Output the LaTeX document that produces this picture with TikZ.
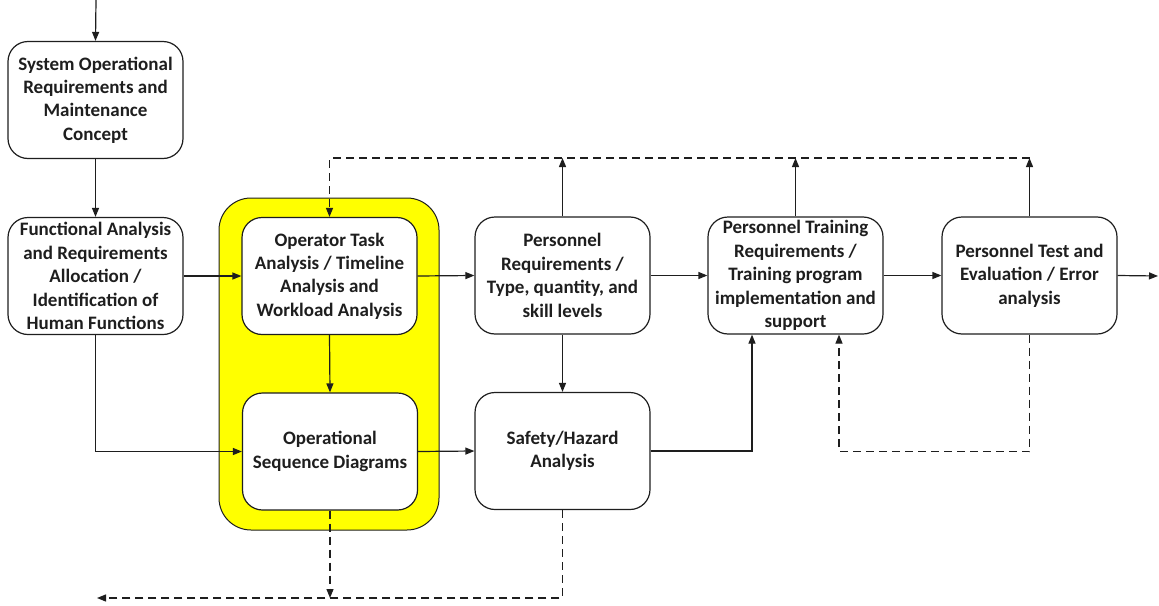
\documentclass[tikz,border=0pt]{standalone}
\usepackage{fontspec}
\setmainfont{Carlito}
\usetikzlibrary{arrows.meta}
\definecolor{hilite}{HTML}{FFFF00}
\definecolor{ink}{HTML}{1E1E1E}
\begin{document}
\begin{tikzpicture}[x=1pt,y=-1pt,
  stage/.style={draw=ink,line width=1.2pt,fill=white,rounded corners=20pt,
    minimum width=175pt,minimum height=117pt,inner sep=2pt,align=center,
    text=ink,font=\fontsize{19}{23.4}\selectfont\bfseries},
  focusbox/.style={draw=ink,line width=1pt,fill=hilite,rounded corners=32pt,
    minimum width=220pt,minimum height=332pt},
  flow/.style={draw=ink,line width=1.2pt,-{Triangle[length=9pt,width=7pt]}},
  feedback/.style={flow,dash pattern=on 8pt off 5pt}]
\useasboundingbox (0,0) rectangle (1159,605);

% highlighted task-analysis group
\node[focusbox] (focus) at (329,364) {};

% process stages
\node[stage] (sysreq) at (95.5,100) {System Operational\\Requirements and\\Maintenance\\Concept};
\node[stage] (func) at (95.5,276) {Functional Analysis\\and Requirements\\Allocation /\\Identification of\\Human Functions};
\node[stage] (task) at (329.5,276) {Operator Task\\Analysis / Timeline\\Analysis and\\Workload Analysis};
\node[stage] (osd) at (330,451.5) {Operational\\Sequence Diagrams};
\node[stage] (preq) at (562.5,275.5) {Personnel\\Requirements /\\Type, quantity, and\\skill levels};
\node[stage] (safety) at (562.5,451) {Safety/Hazard\\Analysis};
\node[stage] (train) at (795.5,275.5) {Personnel Training\\Requirements /\\Training program\\implementation and\\support};
\node[stage] (test) at (1029.5,275.5) {Personnel Test and\\Evaluation / Error\\analysis};

% free ends of connectors
\coordinate (entry) at (96,0);
\coordinate (exit) at (1158,276);
\coordinate (topline) at (1029.5,158);
\coordinate (botline) at (97,598);

% main flow
\draw[flow] (entry) -- (sysreq.north);
\draw[flow] (sysreq.south) -- (func.north);
\draw[flow] (func.east) -- (task.west);
\draw[flow] (func.south) |- (osd.west);
\draw[flow] (task.south) -- (osd.north);
\draw[flow] (task.east) -- (preq.west);
\draw[flow] (preq.south) -- (safety.north);
\draw[flow] (osd.east) -- (safety.west);
\draw[flow] (preq.east) -- (train.west);
\draw[flow] (train.east) -- (test.west);
\draw[flow] (test.east) -- (exit);
\draw[flow] (safety.east) -| ([xshift=-43.5pt]train.south);

% outputs rising to the feedback line
\draw[flow] (preq.north) -- (preq.north |- topline);
\draw[flow] (train.north) -- (train.north |- topline);
\draw[flow] (test.north) -- (topline);

% feedback loops
\draw[feedback] (topline) -| (task.north);
\draw[feedback] (test.south) -- ++(0,117) -| ([xshift=43.5pt]train.south);
\draw[feedback] (osd.south) -- (osd.south |- botline);
\draw[feedback] (safety.south) |- (botline);
\end{tikzpicture}
\end{document}
